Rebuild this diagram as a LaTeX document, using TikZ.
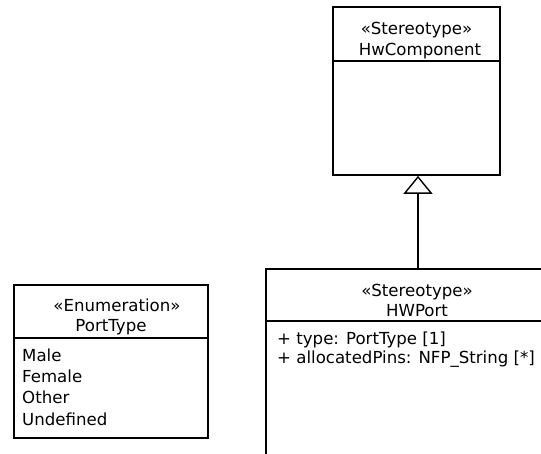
\documentclass[tikz,border=0pt]{standalone}
\usepackage{fontspec}
\setmainfont{DejaVu Sans}
\usetikzlibrary{arrows.meta}
\begin{document}
\begin{tikzpicture}[x=1pt,y=-1pt,
  box/.style={draw=black,line width=1.7pt},
  txt/.style={anchor=base,inner sep=0pt,font=\fontsize{16.6}{20}\selectfont},
  ltxt/.style={anchor=base west,inner sep=0pt,font=\fontsize{16.6}{20}\selectfont},
  gen/.style={line width=1.7pt,-{Triangle[open,length=18pt,width=29pt,line width=1.4pt]}}]
\useasboundingbox[fill=white] (0,0) rectangle (541,453);
\clip (0,0) rectangle (541,453);
% HwComponent
\node[box,minimum width=167pt,minimum height=168pt,inner sep=0pt] (hwc) at (416.5,91) {};
\draw[box] (333,61) -- (500,61);
\node[txt] (hwcs) at (416.5,34.5) {«Stereotype»};
\node[txt] (hwcn) at (420,55) {HwComponent};
% HWPort (extends beyond the picture)
\draw[box] (545,269) -- (266,269) -- (266,460);
\draw[box] (266,321) -- (545,321);
\coordinate (hwp) at (418,269);
\node[txt] (hwps) at (417,296.5) {«Stereotype»};
\node[txt] (hwpn) at (417,316.5) {HWPort};
\node[ltxt] (a1) at (277,344.5) {+ type: PortType [1]};
\node[ltxt] (a2) at (277,363) {+ allocatedPins: NFP\_String [*]};
% PortType
\node[box,minimum width=194pt,minimum height=153pt,inner sep=0pt] (pt) at (111,361.5) {};
\draw[box] (14,338) -- (208,338);
\node[txt] (pts) at (117,311) {«Enumeration»};
\node[txt] (ptn) at (111,331) {PortType};
\node[ltxt] (e1) at (22,361) {Male};
\node[ltxt] (e2) at (22,382) {Female};
\node[ltxt] (e3) at (22,403.5) {Other};
\node[ltxt] (e4) at (22,425) {Undefined};
% generalization
\draw[gen] (hwp) -- (hwc.south -| hwp);
\end{tikzpicture}
\end{document}
